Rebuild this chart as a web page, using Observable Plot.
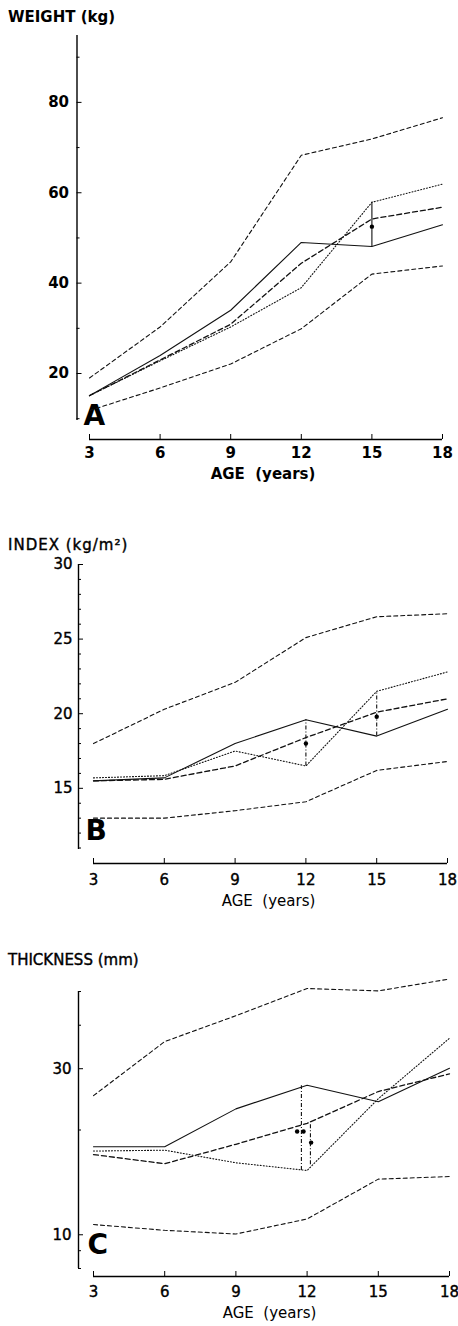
<!DOCTYPE html>
<html>
<head>
<meta charset="utf-8">
<script src="https://cdn.jsdelivr.net/npm/d3@7"></script>
<script src="https://cdn.jsdelivr.net/npm/@observablehq/plot@0.6"></script>
<style>
  body { margin: 0; background: #fff; width: 458px; height: 1326px; position: relative; overflow: hidden; font-family: "DejaVu Sans", sans-serif; color: #000; }
  .title { position: absolute; left: 8px; line-height: 20px; font-size: 15px; white-space: pre; }
  .panel { position: absolute; left: 0; }
  svg text { white-space: pre; }
</style>
</head>
<body>
<div class="title" style="top:7px;font-weight:bold;">WEIGHT (kg)</div>
<div class="title" style="top:535px;letter-spacing:1px;-webkit-text-stroke:0.4px #000;">INDEX (kg/m²)</div>
<div class="title" style="top:950px;-webkit-text-stroke:0.4px #000;">THICKNESS (mm)</div>
<div class="panel" id="pA" style="top:25px"></div>
<div class="panel" id="pB" style="top:555px"></div>
<div class="panel" id="pC" style="top:970px"></div>
<script>
// ---------- data ----------
const ages = [3, 6, 9, 12, 15, 18];
const xLabel = "AGE  (years)";

// Panel A: weight (kg)
const weightUpper  = [19.0, 30.3, 44.7, 68.3, 71.9, 76.6];
const weightMedian = [15.1, 23.0, 30.9, 44.4, 54.2, 56.8];
const weightLower  = [11.8, 16.8, 22.1, 29.9, 42.0, 43.8];
const weightSolid  = [15.1, 24.0, 34.0, 49.0, 48.1, 52.9];
const weightDotted = [15.1, 22.8, 30.3, 39.0, 57.9, 61.9];
const weightMarkAge = [15];
const weightMarkLow = [48.1];
const weightMarkHigh = [57.9];
const weightDotAge = [15];
const weightDotValue = [52.5];
const weightMajorTicks = [20, 40, 60, 80];
const weightMinorTicks = [10, 30, 50, 70, 90];
const weightDomain = [9.6, 94.8];

// Panel B: index (kg/m²)
const indexUpper  = [18.0, 20.3, 22.1, 25.1, 26.5, 26.7];
const indexMedian = [15.5, 15.6, 16.5, 18.4, 20.1, 21.0];
const indexLower  = [13.0, 13.0, 13.5, 14.1, 16.2, 16.8];
const indexSolid  = [15.5, 15.7, 18.0, 19.6, 18.5, 20.3];
const indexDotted = [15.7, 15.85, 17.5, 16.5, 21.5, 22.8];
const indexMarkAge = [12, 15];
const indexMarkLow = [16.5, 18.5];
const indexMarkHigh = [19.6, 21.5];
const indexDotAge = [12, 15];
const indexDotValue = [18.0, 19.8];
const indexMajorTicks = [15, 20, 25, 30];
const indexMinorTicks = [11, 12, 13, 14, 16, 17, 18, 19, 21, 22, 23, 24, 26, 27, 28, 29];
const indexDomain = [10.9, 30];

// Panel C: thickness (mm), log scale
const thickUpper  = [25.1, 35.9, 42.6, 51.0, 50.2, 54.3];
const thickMedian = [17.0, 16.0, 18.2, 20.9, 25.8, 29.0];
const thickLower  = [10.7, 10.3, 10.05, 11.1, 14.45, 14.7];
const thickSolid  = [17.9, 17.9, 23.0, 26.9, 24.1, 30.1];
const thickDotted = [17.4, 17.5, 16.1, 15.3, 24.6, 36.7];
const thickMarkAge = [11.76, 12.14];
const thickMarkLow = [15.3, 15.9];
const thickMarkHigh = [26.8, 21.2];
const thickDotAge = [11.58, 11.85, 12.17];
const thickDotValue = [19.8, 19.8, 18.4];
const thickMajorTicks = [10, 30];
const thickMinorTicks = [8, 9, 20, 40, 50];
const thickDomain = [8, 50];

// ---------- helpers ----------
const rows = (vals) => ages.map((a, i) => ({age: a, v: vals[i]}));
const lineStyles = {
  upper:  {stroke: "#111", strokeWidth: 1.1, strokeDasharray: "4,3"},
  lower:  {stroke: "#111", strokeWidth: 1.1, strokeDasharray: "4,3"},
  median: {stroke: "#111", strokeWidth: 1.3, strokeDasharray: "5,3"},
  solid:  {stroke: "#111", strokeWidth: 1.1},
  dotted: {stroke: "#111", strokeWidth: 1.1, strokeDasharray: "1,2"}
};

function panel(cfg) {
  const series = [
    [cfg.upper, lineStyles.upper],
    [cfg.lower, lineStyles.lower],
    [cfg.median, lineStyles.median],
    [cfg.solid, lineStyles.solid],
    [cfg.dotted, lineStyles.dotted]
  ];
  const markRows = cfg.markAge.map((a, i) => ({age: a, lo: cfg.markLow[i], hi: cfg.markHigh[i]}));
  const dotRows = cfg.dotAge.map((a, i) => ({age: a, v: cfg.dotValue[i]}));
  const fw = cfg.bold ? "bold" : "normal";
  const ts = cfg.bold ? {} : {textStroke: "#000", textStrokeWidth: 0.4};
  return Plot.plot({
    width: 458,
    height: cfg.height,
    marginTop: cfg.mTop,
    marginBottom: cfg.mBottom,
    marginLeft: cfg.mLeft,
    marginRight: cfg.mRight,
    x: {domain: [ages[0], ages[ages.length - 1]]},
    y: {type: cfg.log ? "log" : "linear", domain: cfg.domain},
    style: {fontFamily: "DejaVu Sans, sans-serif", background: "white", color: "black", overflow: "visible"},
    marks: [
      // y axis line, offset left of the first age
      Plot.ruleX([ages[0]], {dx: cfg.axisDx, strokeWidth: 1.4}),
      Plot.axisY({ticks: cfg.major, tickFormat: d => String(d), dx: cfg.axisDx, tickSize: -5, tickPadding: cfg.yPad, fontSize: 15, fontWeight: fw, label: null, ...ts}),
      Plot.axisY({ticks: cfg.minor, tickFormat: () => "", dx: cfg.axisDx, tickSize: -3, label: null}),
      // x axis line, offset below the frame
      Plot.ruleY([cfg.domain[0]], {x1: ages[0], x2: ages[ages.length - 1], dy: cfg.xDy, strokeWidth: 1.4}),
      Plot.axisX({ticks: ages, tickFormat: d => String(d), dy: cfg.xDy, tickSize: -5, tickPadding: cfg.xPad, fontSize: 15, fontWeight: fw, label: null, ...ts}),
      Plot.text([xLabel], {frameAnchor: "bottom", dy: cfg.labelDy, dx: cfg.labelDx, fontSize: 15, fontWeight: fw, letterSpacing: "1px", ...ts}),
      Plot.text([cfg.letter], {frameAnchor: "bottom-left", textAnchor: "start", dx: cfg.letterDx, dy: cfg.letterDy, fontSize: 28, fontWeight: "bold"}),
      ...series.map(([vals, st]) => Plot.line(rows(vals), {x: "age", y: "v", ...st})),
      Plot.ruleX(markRows, {x: "age", y1: "lo", y2: "hi", stroke: "#111", strokeWidth: 1.1, strokeDasharray: cfg.markDash}),
      Plot.dot(dotRows, {x: "age", y: "v", r: 2.2, fill: "#000", stroke: "none"})
    ]
  });
}

document.getElementById("pA").append(panel({
  height: 470, mTop: 10, mBottom: 75, mLeft: 89, mRight: 16,
  domain: weightDomain, major: weightMajorTicks, minor: weightMinorTicks,
  upper: weightUpper, lower: weightLower, median: weightMedian, solid: weightSolid, dotted: weightDotted,
  markAge: weightMarkAge, markLow: weightMarkLow, markHigh: weightMarkHigh,
  dotAge: weightDotAge, dotValue: weightDotValue, markDash: null,
  axisDx: -12.5, yPad: 13, xDy: 19, xPad: 13, labelDy: 58.7, labelDx: -3,
  letter: "A", letterDx: -6, letterDy: 4, bold: true
}));

document.getElementById("pB").append(panel({
  height: 365, mTop: 9, mBottom: 71, mLeft: 93, mRight: 11,
  domain: indexDomain, major: indexMajorTicks, minor: indexMinorTicks,
  upper: indexUpper, lower: indexLower, median: indexMedian, solid: indexSolid, dotted: indexDotted,
  markAge: indexMarkAge, markLow: indexMarkLow, markHigh: indexMarkHigh,
  dotAge: indexDotAge, dotValue: indexDotValue, markDash: "4,2,1,2",
  axisDx: -15, yPad: 11, xDy: 14, xPad: 16, labelDy: 56.7, labelDx: -2,
  letter: "B", letterDx: -8, letterDy: -10, bold: false
}));

document.getElementById("pC").append(panel({
  height: 356, mTop: 21, mBottom: 58, mLeft: 93, mRight: 9, log: true,
  domain: thickDomain, major: thickMajorTicks, minor: thickMinorTicks,
  upper: thickUpper, lower: thickLower, median: thickMedian, solid: thickSolid, dotted: thickDotted,
  markAge: thickMarkAge, markLow: thickMarkLow, markHigh: thickMarkHigh,
  dotAge: thickDotAge, dotValue: thickDotValue, markDash: "4,2,1,2",
  axisDx: -15, yPad: 12, xDy: 8, xPad: 15, labelDy: 49.7, labelDx: -2,
  letter: "C", letterDx: -6, letterDy: -15, bold: false
}));
</script>
</body>
</html>
